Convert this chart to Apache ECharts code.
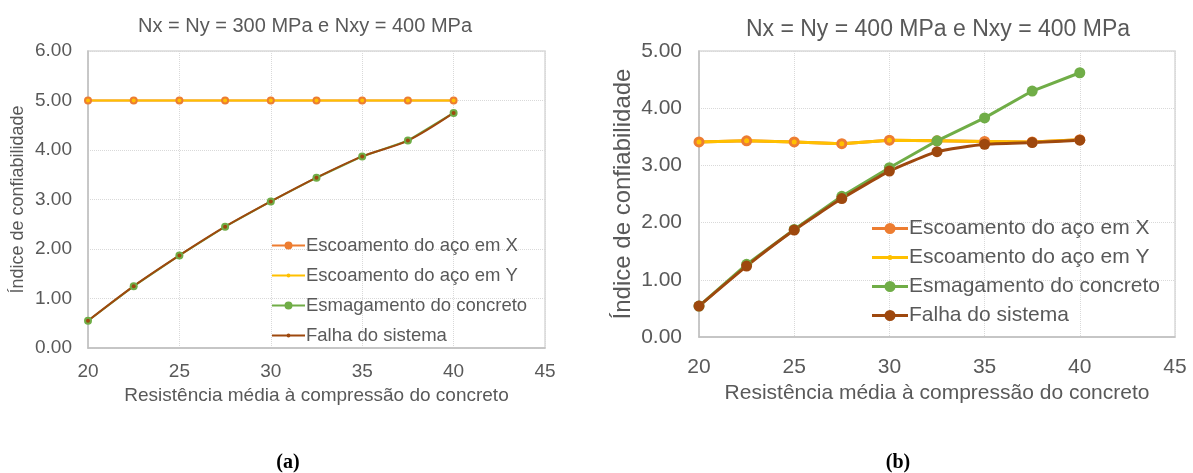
<!DOCTYPE html>
<html lang="pt">
<head>
    <meta charset="UTF-8">
    <title>Índice de confiabilidade</title>
    <script src="https://cdn.jsdelivr.net/npm/echarts@6/dist/echarts.min.js"></script>
    <style>
        body { margin: 0; background: #fff; }
        #main { width: 1193px; height: 473px; }
    </style>
</head>
<body>
    <div id="main"></div>

    <script>
        // resistencia media a compressao do concreto
        const fck = [20, 22.5, 25, 27.5, 30, 32.5, 35, 37.5, 40]
        const nomes = ["Escoamento do aço em X", "Escoamento do aço em Y", "Esmagamento do concreto", "Falha do sistema"]
        const cores = ["#ED7D31", "#FFC000", "#70AD47", "#9E480E"]

        // (a) Nx = Ny = 300 MPa e Nxy = 400 MPa
        const a_acoX = [5.00, 5.00, 5.00, 5.00, 5.00, 5.00, 5.00, 5.00, 5.00]
        const a_acoY = [5.00, 5.00, 5.00, 5.00, 5.00, 5.00, 5.00, 5.00, 5.00]
        const a_concreto = [0.55, 1.25, 1.87, 2.45, 2.96, 3.44, 3.87, 4.19, 4.75]
        const a_sistema = [0.55, 1.25, 1.87, 2.45, 2.96, 3.44, 3.87, 4.19, 4.75]

        // (b) Nx = Ny = 400 MPa e Nxy = 400 MPa
        const b_acoX = [3.41, 3.43, 3.41, 3.38, 3.44, 3.43, 3.42, 3.41, 3.45]
        const b_acoY = [3.41, 3.43, 3.41, 3.38, 3.44, 3.43, 3.42, 3.41, 3.45]
        const b_concreto = [0.54, 1.27, 1.88, 2.46, 2.96, 3.43, 3.83, 4.30, 4.62]
        const b_sistema = [0.54, 1.24, 1.87, 2.42, 2.90, 3.24, 3.37, 3.40, 3.44]

        const fonte = "'Liberation Sans', Arial, sans-serif"
        const cinza = "#595959"

        const pares = (ys) => fck.map((x, i) => [x, ys[i]])

        // icone da legenda: linha + bolinha (tamanho do marcador de cada serie)
        function icone(w, esp, r) {
            const c = w / 2
            return "path://M0," + (-esp / 2) + " L" + w + "," + (-esp / 2) + " L" + w + "," + (esp / 2) + " L0," + (esp / 2) + " Z" +
                " M" + (c - r) + ",0 A" + r + "," + r + " 0 1,1 " + (c + r) + ",0 A" + r + "," + r + " 0 1,1 " + (c - r) + ",0 Z"
        }

        function eixoX(idx, tam, margem, gap) {
            return {
                gridIndex: idx, type: "value", min: 20, max: 45, interval: 5,
                name: "Resistência média à compressão do concreto",
                nameLocation: "middle", nameGap: gap,
                nameTextStyle: { color: cinza, fontFamily: fonte, fontSize: tam },
                axisLine: { lineStyle: { color: "#BFBFBF", width: 1.5 } },
                axisTick: { show: false },
                axisLabel: { color: cinza, fontFamily: fonte, fontSize: tam, margin: margem },
                splitLine: { lineStyle: { color: "#D9D9D9", type: "dotted" } }
            }
        }

        function eixoY(idx, max, tam, nomeTam, margem, gap) {
            return {
                gridIndex: idx, type: "value", min: 0, max: max, interval: 1,
                name: "Índice de confiabilidade",
                nameLocation: "middle", nameGap: gap, nameRotate: 90,
                nameTextStyle: { color: cinza, fontFamily: fonte, fontSize: nomeTam },
                axisLine: { show: true, lineStyle: { color: "#BFBFBF", width: 1.5 } },
                axisTick: { show: false },
                axisLabel: { color: cinza, fontFamily: fonte, fontSize: tam, margin: margem,
                    formatter: (v) => v.toFixed(2) },
                splitLine: { lineStyle: { color: "#D9D9D9", type: "dotted" } }
            }
        }

        function serie(idx, nome, cor, dados, tam, largura, suave) {
            return {
                type: "line", name: nome, xAxisIndex: idx, yAxisIndex: idx,
                data: pares(dados), symbol: "circle", symbolSize: tam,
                smooth: suave, color: cor,
                lineStyle: { color: cor, width: largura },
                itemStyle: { color: cor },
                emphasis: { disabled: true }
            }
        }

        const raiosA = [4, 2, 4, 2]
        const raiosB = [5.5, 2.5, 5.5, 5.5]

        const mychart = echarts.init(document.getElementById("main"))
        const option = {
            animation: false,
            title: [
                { text: "Nx = Ny = 300 MPa e Nxy = 400 MPa", left: 300, top: 11, textAlign: "center",
                  textStyle: { color: cinza, fontFamily: fonte, fontSize: 20, fontWeight: "normal" } },
                { text: "Nx = Ny = 400 MPa e Nxy = 400 MPa", left: 933, top: 13, textAlign: "center",
                  textStyle: { color: cinza, fontFamily: fonte, fontSize: 23, fontWeight: "normal" } },
                { text: "(a)", left: 283, top: 448, textAlign: "center",
                  textStyle: { color: "#000", fontFamily: "'Liberation Serif', serif", fontSize: 20, fontWeight: "bold" } },
                { text: "(b)", left: 893, top: 448, textAlign: "center",
                  textStyle: { color: "#000", fontFamily: "'Liberation Serif', serif", fontSize: 20, fontWeight: "bold" } }
            ],
            legend: [
                { data: nomes.map((n, i) => ({ name: n, icon: icone(33, 2, raiosA[i]) })),
                  orient: "vertical", left: 267, top: 231, itemWidth: 33, itemHeight: 10, itemGap: 11,
                  textStyle: { color: cinza, fontFamily: fonte, fontSize: 18.5, padding: [0, 0, 0, -4] } },
                { data: nomes.map((n, i) => ({ name: n + " ", icon: icone(36, 3, raiosB[i]) })),
                  orient: "vertical", left: 867, top: 213, itemWidth: 36, itemHeight: 12, itemGap: 8,
                  textStyle: { color: cinza, fontFamily: fonte, fontSize: 21, padding: [0, 0, 0, -4] } }
            ],
            grid: [
                { left: 88, right: 648, top: 51, bottom: 125, show: true, borderColor: "#D9D9D9", borderWidth: 1.5 },
                { left: 699, right: 18, top: 51, bottom: 136, show: true, borderColor: "#D9D9D9", borderWidth: 1.5 }
            ],
            xAxis: [eixoX(0, 19, 14, 37), eixoX(1, 21, 20, 45)],
            yAxis: [eixoY(0, 6, 19, 18, 16, 61), eixoY(1, 5, 21, 24, 17, 64)],
            series: [
                serie(0, nomes[0], cores[0], a_acoX, 8, 2, false),
                serie(0, nomes[1], cores[1], a_acoY, 4, 2, false),
                serie(0, nomes[2], cores[2], a_concreto, 8, 2, false),
                serie(0, nomes[3], cores[3], a_sistema, 4, 2, 0.3),
                serie(1, nomes[0] + " ", cores[0], b_acoX, 11, 3, false),
                serie(1, nomes[1] + " ", cores[1], b_acoY, 5, 3, false),
                serie(1, nomes[2] + " ", cores[2], b_concreto, 11, 3, false),
                serie(1, nomes[3] + " ", cores[3], b_sistema, 11, 3, 0.15)
            ]
        }
        mychart.setOption(option)
    </script>
</body>
</html>
